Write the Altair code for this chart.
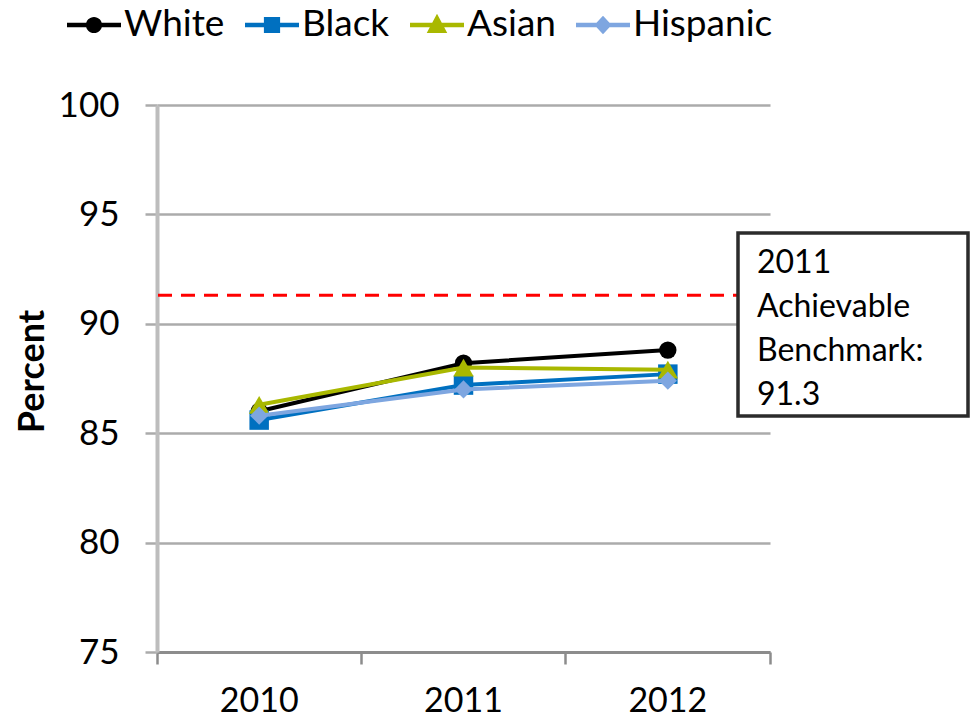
import altair as alt
import pandas as pd

# Share of patients (percent) by race/ethnicity, 2010-2012
years = ["2010", "2011", "2012"]
series = ["White", "Black", "Asian", "Hispanic"]
white = [86.0, 88.2, 88.8]
black = [85.6, 87.2, 87.7]
asian = [86.3, 88.0, 87.9]
hispanic = [85.8, 87.0, 87.4]

benchmark = 91.3
benchmark_year = "2011"

colors = ["#000000", "#0070C0", "#A9B800", "#7EA6E0"]
markers = ["circle", "square", "triangle-up", "diamond"]
marker_sizes = [300, 380, 420, 330]

# legend glyphs: a short line segment with the series marker on it (unit box -1..1)
bar = "M-1,-0.08 L1,-0.08 L1,0.08 L-1,0.08 Z "
legend_glyphs = [
    bar + "M0.3,0 A0.3,0.3 0 1 1 -0.3,0 A0.3,0.3 0 1 1 0.3,0 Z",
    bar + "M-0.3,-0.3 L0.3,-0.3 L0.3,0.3 L-0.3,0.3 Z",
    bar + "M0,-0.42 L0.38,0.3 L-0.38,0.3 Z",
    bar + "M0,-0.34 L0.32,0 L0,0.34 L-0.32,0 Z",
]

values = [white, black, asian, hispanic]
df = pd.DataFrame(
    [{"year": y, "series": s, "pct": v}
     for s, vals in zip(series, values) for y, v in zip(years, vals)]
)

FONT = "Lato"
W, H = 613, 547

x_enc = alt.X(
    "year:N",
    scale=alt.Scale(type="band", domain=years, paddingInner=0, paddingOuter=0),
    axis=alt.Axis(
        title=None, labelAngle=0, bandPosition=1, tickExtra=True, grid=False,
        domainColor="#8C8C8C", domainWidth=3, tickColor="#8C8C8C", tickWidth=2.5,
        tickSize=12, labelPadding=20, labelFontSize=34, labelFont=FONT,
        labelColor="#000000",
    ),
)
y_enc = alt.Y(
    "pct:Q",
    scale=alt.Scale(domain=[75, 100], nice=False, zero=False),
    axis=alt.Axis(
        title="Percent", values=[75, 80, 85, 90, 95, 100], grid=True,
        gridColor="#ABABAB", gridWidth=2.5, domainColor="#BDBDBD", domainWidth=4,
        tickColor="#ABABAB", tickWidth=2.5, tickSize=12, labelPadding=26,
        labelFontSize=35, labelFont=FONT, labelColor="#000000",
        titleFont=FONT, titleFontSize=36, titleFontWeight="bold",
        titleColor="#000000", titlePadding=7, titleY=266,
    ),
)

base = alt.Chart(df)
layers = []

# benchmark reference line
bench_df = pd.DataFrame({"pct": [benchmark]})
layers.append(
    alt.Chart(bench_df)
    .mark_rule(color="#FF0000", strokeWidth=3, strokeDash=[14, 9])
    .encode(y=y_enc)
)

# one line + marker pair per series, drawn in series order
for s, c, m, sz in zip(series, colors, markers, marker_sizes):
    sub = base.transform_filter(alt.datum.series == s)
    layers.append(sub.mark_line(color=c, strokeWidth=4).encode(x=x_enc, y=y_enc))
    layers.append(
        sub.mark_point(shape=m, size=sz, filled=True, color=c, opacity=1)
        .encode(x=x_enc, y=y_enc)
    )

# legend carrier (no visible marks)
legend_layer = (
    alt.Chart(pd.DataFrame({"series": series}))
    .mark_point(filled=True, opacity=1)
    .encode(
        color=alt.Color("series:N", scale=alt.Scale(domain=series, range=colors),
                        legend=alt.Legend(title=None)),
        shape=alt.Shape("series:N", scale=alt.Scale(domain=series, range=legend_glyphs),
                        legend=alt.Legend(title=None)),
    )
    .transform_filter("false")
)
layers.append(legend_layer)

# benchmark callout box
box_df = pd.DataFrame({"label": [benchmark_year]})
layers.append(
    alt.Chart(box_df)
    .mark_rect(fill="#FFFFFF", stroke="#2B2B2B", strokeWidth=3.5)
    .encode(x=alt.value(581), x2=alt.value(811), y=alt.value(128), y2=alt.value(311))
)
layers.append(
    alt.Chart(box_df)
    .mark_text(
        align="left", baseline="alphabetic", font=FONT, fontSize=32,
        lineHeight=44, color="#000000",
        text=[benchmark_year, "Achievable", "Benchmark:", f"{benchmark}"],
    )
    .encode(x=alt.value(600), y=alt.value(168))
)

chart = (
    alt.layer(*layers)
    .properties(
        width=W, height=H,
        padding={"left": 157, "top": 105, "right": 201, "bottom": 69},
        autosize=alt.AutoSizeParams(type="none"),
        background="#FFFFFF",
    )
    .configure_view(stroke=None)
    .configure_legend(
        orient="none", legendX=-90, legendY=-107, direction="horizontal",
        symbolSize=2916, symbolStrokeWidth=0, labelFont=FONT, labelFontSize=37,
        labelColor="#000000", labelOffset=3, columnPadding=20, labelLimit=300,
    )
)

chart.save("out.html", embed_options={"renderer": "svg", "actions": False})
